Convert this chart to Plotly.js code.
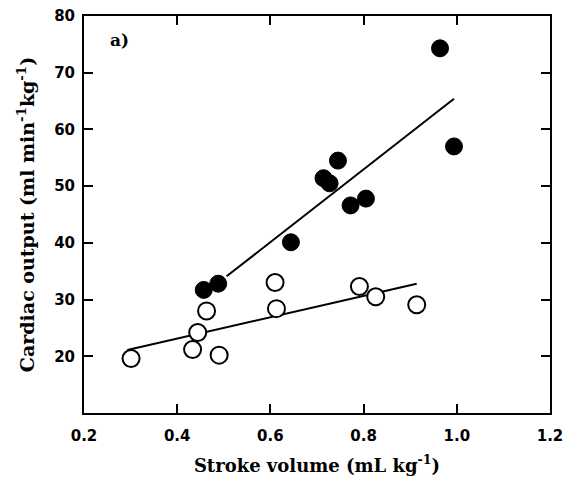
<!DOCTYPE html>
<html><head><meta charset="utf-8">
<script src="https://cdn.plot.ly/plotly-3.0.1.min.js"></script>
<style>body{margin:0;background:#fff}</style></head>
<body><div id="chart" style="width:568px;height:486px"></div>
<script>
// Filled circles (series 1)
const filledX = [0.964, 0.994, 0.745, 0.714, 0.727, 0.772, 0.805, 0.644, 0.488, 0.457];
const filledY = [74.3, 57.0, 54.5, 51.4, 50.5, 46.6, 47.8, 40.1, 32.8, 31.7];
// Open circles (series 2)
const openX = [0.301, 0.433, 0.490, 0.444, 0.463, 0.610, 0.613, 0.791, 0.826, 0.914];
const openY = [19.6, 21.2, 20.2, 24.2, 28.0, 33.0, 28.4, 32.3, 30.5, 29.1];
// Regression line endpoints
const fitFilledX = [0.506, 0.994];
const fitFilledY = [34.1, 65.4];
const fitOpenX = [0.293, 0.914];
const fitOpenY = [21.1, 32.8];
const xTicks = [0.2, 0.4, 0.6, 0.8, 1.0, 1.2];
const yTicks = [20, 30, 40, 50, 60, 70, 80];

const data = [
  {x: fitFilledX, y: fitFilledY, mode: 'lines', line: {color: '#000', width: 2}, hoverinfo: 'skip'},
  {x: fitOpenX, y: fitOpenY, mode: 'lines', line: {color: '#000', width: 2}, hoverinfo: 'skip'},
  {x: openX, y: openY, mode: 'markers', marker: {size: 17, color: '#fff', line: {color: '#000', width: 2}}},
  {x: filledX, y: filledY, mode: 'markers', marker: {size: 17, color: '#000', line: {color: '#000', width: 1}}}
];

const tickFont = {family: 'DejaVu Sans', size: 15, color: '#000', weight: 'bold'};
const xTitleFont = {family: 'DejaVu Serif', size: 18, color: '#000', weight: 'bold'};
const yTitleFont = {family: 'DejaVu Serif', size: 19, color: '#000', weight: 'bold'};
const layout = {
  width: 568, height: 486,
  margin: {l: 84, r: 18, t: 16, b: 73},
  showlegend: false,
  paper_bgcolor: '#fff', plot_bgcolor: '#fff',
  xaxis: {
    range: [0.2, 1.2], tickvals: xTicks, ticktext: xTicks.map(v => v.toFixed(1)),
    ticks: 'inside', ticklen: 9, tickwidth: 2, tickcolor: '#000', ticklabelstandoff: 8,
    showline: true, linecolor: '#000', linewidth: 2, mirror: 'ticks',
    showgrid: false, zeroline: false, tickfont: tickFont,
    title: {text: 'Stroke volume (mL kg<sup>-1</sup>)', font: xTitleFont, standoff: 15}
  },
  yaxis: {
    range: [10, 80], tickvals: yTicks,
    ticks: 'inside', ticklen: 9, tickwidth: 2, tickcolor: '#000', ticklabelstandoff: 4,
    showline: true, linecolor: '#000', linewidth: 2, mirror: 'ticks',
    showgrid: false, zeroline: false, tickfont: tickFont,
    title: {text: 'Cardiac output (ml min<sup>-1</sup>kg<sup>-1</sup>)', font: yTitleFont, standoff: 14}
  },
  annotations: [{
    text: 'a)', x: 0.277, y: 75.8, xref: 'x', yref: 'y', showarrow: false,
    font: {family: 'DejaVu Serif', size: 17, color: '#000', weight: 'bold'}
  }]
};
Plotly.newPlot('chart', data, layout, {displayModeBar: false, staticPlot: true});
</script></body></html>
